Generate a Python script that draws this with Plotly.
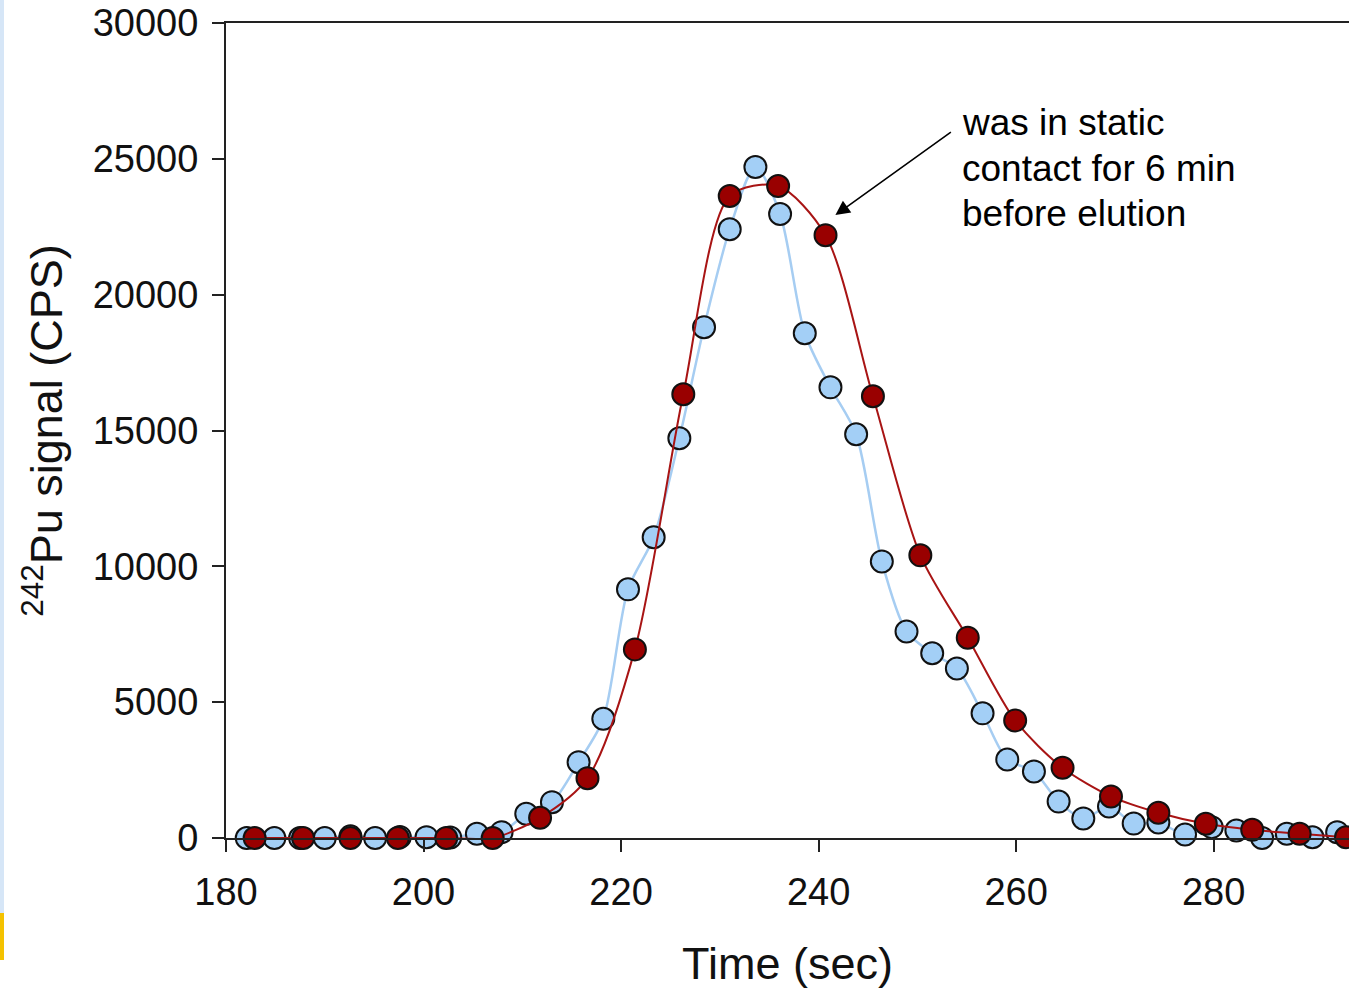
import plotly.graph_objects as go

# Light-blue series (no static contact)
blue_x = [182.1, 184.9, 187.5, 190.0, 192.6, 195.1, 197.6, 200.3, 202.7, 205.4,
          207.9, 210.4, 213.0, 215.7, 218.2, 220.7, 223.3, 225.9, 228.4, 231.0,
          233.6, 236.1, 238.6, 241.2, 243.8, 246.4, 248.9, 251.5, 254.0, 256.6,
          259.1, 261.8, 264.3, 266.8, 269.4, 271.9, 274.4, 277.1, 279.8, 282.3,
          284.9, 287.4, 290.0, 292.5]
blue_y = [0, 0, 0, 0, 60, 0, 40, 30, 20, 155,
          214, 891, 1319, 2792, 4390, 9153, 11070, 14715, 18800, 22410,
          24700, 22970, 18580, 16590, 14860, 10180, 7600, 6800, 6240, 4590,
          2890, 2450, 1340, 720, 1160, 530, 570, 130, 400, 276,
          0, 155, 29, 214]

# Dark-red series (static contact 6 min before elution)
red_x = [182.9, 187.8, 192.6, 197.4, 202.3, 207.0, 211.8, 216.6, 221.4, 226.3,
         231.0, 235.9, 240.7, 245.5, 250.3, 255.1, 259.9, 264.7, 269.6, 274.4,
         279.2, 283.9, 288.7, 293.4]
red_y = [0, 0, 0, 0, 0, 0, 744, 2203, 6943, 16335,
         23630, 24000, 22190, 16260, 10405, 7374, 4328, 2586, 1529, 928,
         523, 302, 155, 29]

x_ticks = [180, 200, 220, 240, 260, 280]
y_ticks = [0, 5000, 10000, 15000, 20000, 25000, 30000]
y_tick_labels = ["0", "5000", "10000", "15000", "20000", "25000", "30000"]

note_lines = ["was in static", "contact for 6 min", "before elution"]
note_line_y = [26320, 24660, 23000]

FONT = "Liberation Sans, Arial, sans-serif"

fig = go.Figure()
fig.add_trace(go.Scatter(
    x=blue_x, y=blue_y, mode="lines+markers",
    line=dict(color="#a6cdf2", width=2.5, shape="spline", smoothing=0.8),
    marker=dict(size=22, color="#a3cff6", line=dict(color="#111111", width=2)),
    cliponaxis=False, showlegend=False))
fig.add_trace(go.Scatter(
    x=red_x, y=red_y, mode="lines+markers",
    line=dict(color="#a81414", width=2, shape="spline", smoothing=0.8),
    marker=dict(size=22, color="#990000", line=dict(color="#111111", width=2)),
    cliponaxis=False, showlegend=False))

fig.add_annotation(
    x=241.7, y=22930, ax=254.1, ay=26170, axref="x", ayref="y",
    xref="x", yref="y", text=" ", showarrow=True,
    arrowhead=2, arrowsize=1.8, arrowwidth=1.6, arrowcolor="#000000")
for line_text, ly in zip(note_lines, note_line_y):
    fig.add_annotation(
        x=254.3, y=ly, xref="x", yref="y", xanchor="left", yanchor="middle",
        align="left", showarrow=False, text=line_text,
        font=dict(family=FONT, size=37, color="#000000"))

# faint slide-background strip at the far left
fig.add_shape(type="rect", xref="paper", yref="paper",
              x0=-226/1123, x1=-222/1123, y0=(838-913)/815, y1=(838-0)/815,
              fillcolor="#d6e6f7", line_width=0, layer="below")
fig.add_shape(type="rect", xref="paper", yref="paper",
              x0=-226/1123, x1=-222/1123, y0=(838-960)/815, y1=(838-913)/815,
              fillcolor="#f4c200", line_width=0, layer="below")

fig.update_layout(
    width=1349, height=993,
    margin=dict(l=226, r=0, t=23, b=155),
    paper_bgcolor="white", plot_bgcolor="white",
    font=dict(family=FONT, size=38, color="#111111"),
    xaxis=dict(range=[180, 293.7], tickvals=x_ticks, ticks="outside", ticklen=12,
               tickwidth=2, tickcolor="#222222", showline=True, linecolor="#222222",
               linewidth=2, mirror=True, showgrid=False, zeroline=False,
               ticklabelstandoff=7,
               title=dict(text="Time (sec)", font=dict(size=45), standoff=36)),
    yaxis=dict(range=[0, 30000], tickvals=y_ticks, ticktext=y_tick_labels,
               ticks="outside", ticklen=12,
               tickwidth=2, tickcolor="#222222", showline=True, linecolor="#222222",
               linewidth=2, showgrid=False, zeroline=False,
               ticklabelstandoff=6,
               title=dict(text="<sup>242</sup>Pu signal (CPS)", font=dict(size=45), standoff=16)),
)

fig.write_html("out.html")
